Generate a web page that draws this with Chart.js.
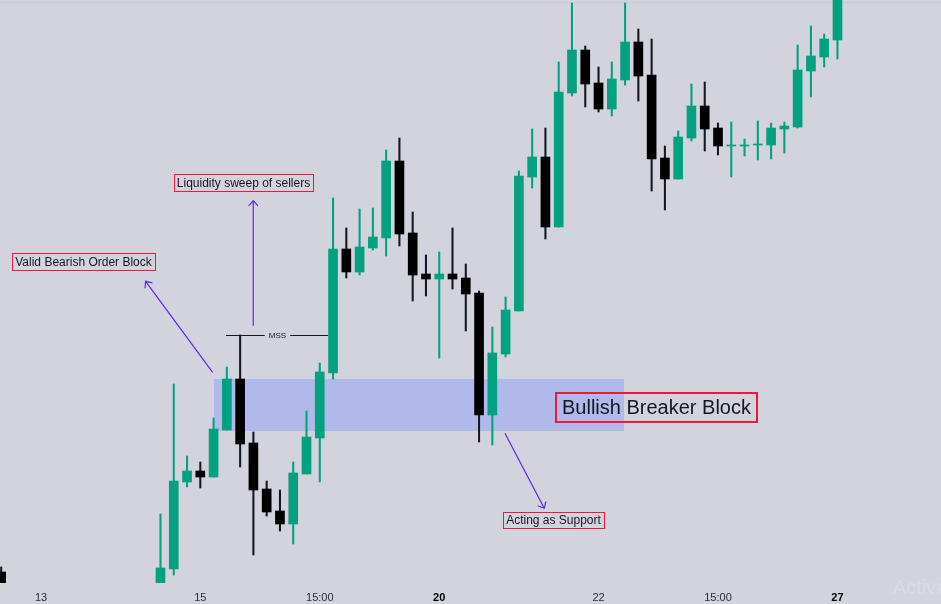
<!DOCTYPE html>
<html>
<head>
<meta charset="utf-8">
<title>Bullish Breaker Block</title>
<script src="https://cdn.jsdelivr.net/npm/chart.js@4.4.1/dist/chart.umd.min.js"></script>
<style>
  html, body { margin: 0; padding: 0; background: #d2d3dd; overflow: hidden; }
  #wrap { width: 941px; height: 604px; }
</style>
</head>
<body>
<div id="wrap"><canvas id="chart" width="941" height="604"></canvas></div>
<script>
// candle slots (bar index on the time axis); slots 1-11 sit below the visible range
const candleIdx = [0, 12, 13, 14, 15, 16, 17, 18, 19, 20, 21, 22, 23, 24, 25, 26, 27, 28, 29, 30,
  31, 32, 33, 34, 35, 36, 37, 38, 39, 40, 41, 42, 43, 44, 45, 46, 47, 48, 49, 50,
  51, 52, 53, 54, 55, 56, 57, 58, 59, 60, 61, 62, 63]
const opens  = [28, 8, 31, 118, 129, 123, 170, 221, 157, 111, 89, 76, 126, 162, 227, 351, 328, 352, 362, 439,
  367, 326, 321, 326, 322, 307, 185, 246, 289, 423, 443, 373, 507, 550, 517, 491, 520, 558, 525, 442,
  421, 462, 494, 472, 454, 454, 455, 455, 471, 473, 529, 543, 560]
const highs  = [33, 86, 216, 144, 138, 182, 233, 265, 168, 119, 110, 138, 189, 237, 402, 372, 391, 392, 450, 462,
  388, 345, 348, 372, 336, 309, 273, 303, 429, 471, 472, 538, 597, 554, 533, 538, 597, 571, 561, 454,
  469, 516, 518, 477, 478, 461, 479, 477, 478, 555, 574, 566, 615]
const lows   = [5, 2, 25, 113, 112, 123, 170, 133, 45, 84, 69, 56, 126, 118, 221, 322, 325, 350, 344, 354,
  299, 304, 242, 311, 269, 158, 155, 243, 289, 412, 361, 373, 504, 493, 488, 484, 515, 499, 409, 390,
  421, 459, 449, 445, 423, 444, 440, 441, 447, 472, 503, 533, 541]
const closes = [12, 32, 119, 129, 123, 171, 221, 156, 110, 88, 76, 127, 163, 228, 351, 328, 353, 363, 439, 366,
  325, 321, 326, 321, 306, 185, 247, 290, 424, 443, 373, 508, 550, 516, 491, 521, 558, 524, 441, 421,
  463, 494, 471, 454, 455, 455, 456, 472, 474, 530, 544, 561, 608]

const tickIdx = [3, 15, 24, 33, 45, 54, 63]
const tickLabels = ['13', '15', '15:00', '20', '22', '15:00', '27']
const boldLabels = ['20', '27']

const UP = '#02a17f'
const DOWN = '#000000'
const DOWN_WICK = '#131722'
const FONT = '"Liberation Sans", Arial, sans-serif'

const bodies = candleIdx.map((x, i) => ({ x, y: [opens[i], closes[i]] }))
const wicks = candleIdx.map((x, i) => ({ x, y: [lows[i], highs[i]] }))
const isUp = candleIdx.map((x, i) => closes[i] >= opens[i])

// annotations, placed in data units (bar index, price)
const zone = { x1: 16.03, x2: 46.91, top: 221, bottom: 169 }
const mss = { x1: 16.93, x2: 24.62, y: 265, text: 'MSS' }
const notes = [
  { text: 'Bullish Breaker Block', x: 49.35, y: 192.5, size: 20, padX: 6, h: 29, lw: 2 },
  { text: 'Acting as Support', x: 41.62, y: 80, size: 12, padX: 3, h: 16, lw: 1 },
  { text: 'Valid Bearish Order Block', x: 6.23, y: 338.2, size: 12, padX: 3, h: 17, lw: 1 },
  { text: 'Liquidity sweep of sellers', x: 18.27, y: 418, size: 12, padX: 3, h: 17, lw: 1 },
]
const arrows = [
  { x1: 15.93, y1: 227.7, x2: 10.88, y2: 318.7 },
  { x1: 18.99, y1: 274.3, x2: 18.99, y2: 399.3 },
  { x1: 37.95, y1: 166.7, x2: 40.91, y2: 91.7 },
]

function drawArrow(ctx, x1, y1, x2, y2) {
  const a = Math.atan2(y2 - y1, x2 - x1), L = 7, s = 0.72
  ctx.beginPath()
  ctx.moveTo(x1, y1)
  ctx.lineTo(x2, y2)
  ctx.moveTo(x2 - L * Math.cos(a - s), y2 - L * Math.sin(a - s))
  ctx.lineTo(x2, y2)
  ctx.lineTo(x2 - L * Math.cos(a + s), y2 - L * Math.sin(a + s))
  ctx.stroke()
}

const annotations = {
  id: 'annotations',
  beforeDatasetsDraw(chart) {
    const { ctx, chartArea, scales: { x, y } } = chart
    ctx.save()
    ctx.beginPath()
    ctx.rect(chartArea.left, chartArea.top, chartArea.width, chartArea.height)
    ctx.clip()
    const l = Math.round(x.getPixelForValue(zone.x1)), r = Math.round(x.getPixelForValue(zone.x2))
    const t = Math.round(y.getPixelForValue(zone.top)), b = Math.round(y.getPixelForValue(zone.bottom))
    ctx.fillStyle = '#b1b9ea'
    ctx.fillRect(l, t, r - l, b - t)
    // thin line under the top strip
    ctx.fillStyle = '#c9cad4'
    ctx.fillRect(chartArea.left, 2, chartArea.width, 1)
    ctx.restore()
  },
  afterDatasetsDraw(chart) {
    const { ctx, scales: { x, y } } = chart
    ctx.save()

    // MSS line
    const my = Math.round(y.getPixelForValue(mss.y)) + 0.5
    const mx1 = x.getPixelForValue(mss.x1), mx2 = x.getPixelForValue(mss.x2)
    const mc = (mx1 + mx2) / 2 + 0.5
    ctx.font = `8px ${FONT}`
    const mw = ctx.measureText(mss.text).width
    ctx.strokeStyle = '#131722'
    ctx.lineWidth = 1
    ctx.beginPath()
    ctx.moveTo(mx1, my); ctx.lineTo(mc - mw / 2 - 4, my)
    ctx.moveTo(mc + mw / 2 + 4, my); ctx.lineTo(mx2, my)
    ctx.stroke()
    ctx.fillStyle = '#131722'
    ctx.textAlign = 'center'
    ctx.textBaseline = 'middle'
    ctx.fillText(mss.text, mc, my)

    // arrows
    ctx.strokeStyle = '#6322f6'
    ctx.lineWidth = 1.2
    arrows.forEach(a => drawArrow(ctx,
      x.getPixelForValue(a.x1), y.getPixelForValue(a.y1),
      x.getPixelForValue(a.x2), y.getPixelForValue(a.y2)))

    // labelled boxes
    notes.forEach(n => {
      ctx.font = `${n.size}px ${FONT}`
      const cx = x.getPixelForValue(n.x), cy = y.getPixelForValue(n.y)
      const w = Math.round(ctx.measureText(n.text).width + n.padX * 2)
      const bx = Math.round(cx - w / 2), by = Math.round(cy - n.h / 2)
      const off = n.lw % 2 ? 0.5 : 0
      ctx.strokeStyle = '#f1173c'
      ctx.lineWidth = n.lw
      ctx.strokeRect(bx + off, by + off, w, n.h)
      ctx.fillStyle = '#131722'
      ctx.textAlign = 'center'
      ctx.textBaseline = 'middle'
      ctx.fillText(n.text, bx + w / 2, by + n.h / 2 + 1)
    })

    // watermark
    ctx.font = `20px ${FONT}`
    ctx.fillStyle = 'rgba(255,255,255,0.2)'
    ctx.textAlign = 'left'
    ctx.textBaseline = 'alphabetic'
    ctx.fillText('Activate Windows', 893, 594)
    ctx.restore()
  }
}

new Chart(document.getElementById('chart'), {
  type: 'bar',
  data: {
    datasets: [
      {
        data: bodies,
        backgroundColor: isUp.map(u => u ? UP : DOWN),
        barThickness: 9,
        grouped: false,
        clip: 0,
        order: 0,
      },
      {
        data: wicks,
        backgroundColor: isUp.map(u => u ? UP : DOWN_WICK),
        barThickness: 1.4,
        grouped: false,
        clip: 0,
        order: 1,
      },
    ]
  },
  options: {
    responsive: false,
    animation: false,
    layout: { padding: 0 },
    plugins: { legend: { display: false }, tooltip: { enabled: false } },
    scales: {
      x: {
        type: 'linear',
        offset: false,
        min: -0.09,
        max: 70.8,
        grid: { display: false, drawTicks: false },
        border: { display: false },
        afterBuildTicks: s => { s.ticks = tickIdx.map(v => ({ value: v })) },
        afterFit: s => { s.height = 21 },
        ticks: {
          autoSkip: false,
          maxRotation: 0,
          padding: 8,
          callback: v => tickLabels[tickIdx.indexOf(v)],
          color: c => boldLabels.includes(tickLabels[c.index]) ? '#000000' : '#2a2e39',
          font: c => ({
            family: FONT,
            size: 11,
            weight: boldLabels.includes(tickLabels[c.index]) ? 'bold' : 'normal'
          })
        }
      },
      y: { display: false, min: 17, max: 600 }
    }
  },
  plugins: [annotations]
})
</script>
</body>
</html>
